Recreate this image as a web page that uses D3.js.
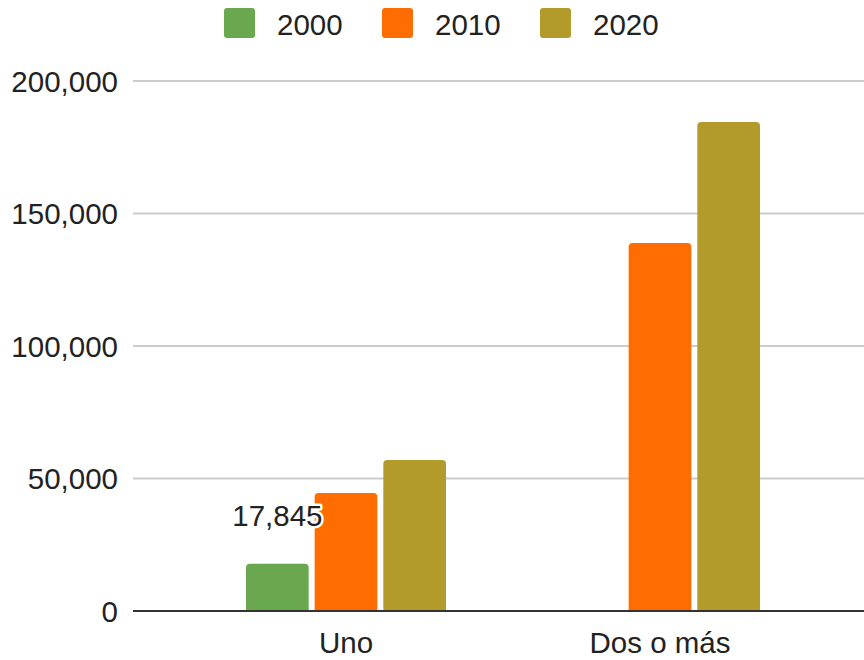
<!DOCTYPE html>
<html>
<head>
<meta charset="utf-8">
<script src="https://cdn.jsdelivr.net/npm/d3@7"></script>
<style>
  body { margin: 0; background: #fff; }
  svg { display: block; font-family: "Liberation Sans", Arial, sans-serif; }
</style>
</head>
<body>
<div class="chart"></div>
<script>
// data
let categories = ["Uno", "Dos o más"];
let years = ["2000", "2010", "2020"];
let values2000 = [17845, 0];
let values2010 = [44500, 138900];
let values2020 = [57000, 184500];
let yTicks = [0, 50000, 100000, 150000, 200000];
let colors = ["#6aa84f", "#ff6d01", "#b29b2b"];

let width = 864, height = 660;
let fontSize = 29.5;
let series = [values2000, values2010, values2020];

let svg = d3.select(".chart").append("svg")
	.attr("width", width)
	.attr("height", height);

let y = d3.scaleLinear()
	.domain([0, 200000])
	.range([611, 81]);

let x0 = d3.scaleBand()
	.domain(categories)
	.range([189, 817])
	.paddingInner(0.363)
	.paddingOuter(0.1815);

let x1 = d3.scaleBand()
	.domain(years)
	.range([0, x0.bandwidth()])
	.paddingInner(0.087);

// gridlines
svg.append("g").selectAll("line")
	.data(yTicks.filter(t => t > 0))
	.join("line")
	.attr("x1", 133).attr("x2", width)
	.attr("y1", d => y(d)).attr("y2", d => y(d))
	.attr("stroke", "#cccccc")
	.attr("stroke-width", 2);

// y axis labels
let fmt = d3.format(",");
svg.append("g").selectAll("text")
	.data(yTicks)
	.join("text")
	.attr("x", 118)
	.attr("y", d => y(d))
	.attr("dy", "0.36em")
	.attr("text-anchor", "end")
	.attr("font-size", fontSize)
	.attr("fill", "#222")
	.text(d => fmt(d));

// bars, rounded top corners
function barPath(x, yTop, w, yBase, r) {
	let h = yBase - yTop;
	if (h <= 0) return "";
	r = Math.min(r, h, w / 2);
	return `M${x},${yBase}V${yTop + r}Q${x},${yTop} ${x + r},${yTop}H${x + w - r}Q${x + w},${yTop} ${x + w},${yTop + r}V${yBase}Z`;
}

let groups = svg.append("g").selectAll("g")
	.data(categories)
	.join("g")
	.attr("transform", d => `translate(${x0(d)},0)`);

groups.selectAll("path")
	.data((c, i) => years.map((yr, s) => ({ year: yr, value: series[s][i], color: colors[s] })))
	.join("path")
	.attr("d", d => barPath(x1(d.year), y(d.value), x1.bandwidth(), y(0), 4))
	.attr("fill", d => d.color);

// baseline
svg.append("line")
	.attr("x1", 133).attr("x2", width)
	.attr("y1", y(0)).attr("y2", y(0))
	.attr("stroke", "#333")
	.attr("stroke-width", 2);

// data label on the 2000 bar
svg.append("text")
	.attr("x", x0(categories[0]) + x1(years[0]) + x1.bandwidth() / 2)
	.attr("y", y(values2000[0]) - 38)
	.attr("text-anchor", "middle")
	.attr("font-size", fontSize)
	.attr("fill", "#222")
	.attr("stroke", "#fff")
	.attr("stroke-width", 5)
	.attr("stroke-linejoin", "round")
	.attr("paint-order", "stroke")
	.text(fmt(values2000[0]));

// x axis labels
svg.append("g").selectAll("text")
	.data(categories)
	.join("text")
	.attr("x", d => x0(d) + x0.bandwidth() / 2)
	.attr("y", 653)
	.attr("text-anchor", "middle")
	.attr("font-size", fontSize)
	.attr("fill", "#222")
	.text(d => d);

// legend
let legend = svg.append("g").selectAll("g")
	.data(years)
	.join("g")
	.attr("transform", (d, i) => `translate(${224 + i * 158},8)`);

legend.append("rect")
	.attr("width", 31).attr("height", 30)
	.attr("rx", 3)
	.attr("fill", (d, i) => colors[i]);

legend.append("text")
	.attr("x", 53)
	.attr("y", 27)
	.attr("font-size", fontSize)
	.attr("fill", "#222")
	.text(d => d);
</script>
</body>
</html>
